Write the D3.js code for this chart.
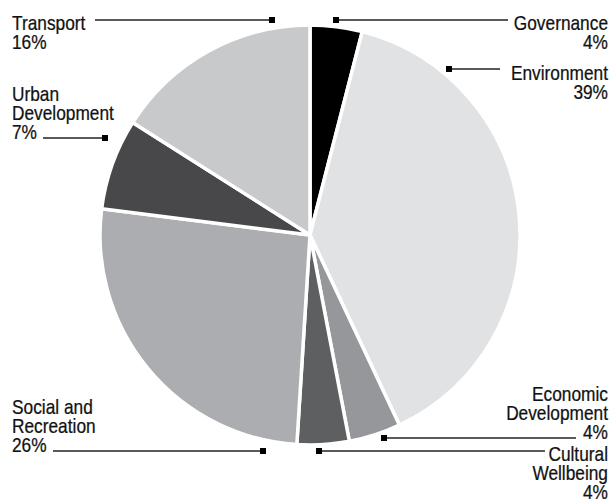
<!DOCTYPE html>
<html>
<head>
<meta charset="utf-8">
<script src="https://cdn.jsdelivr.net/npm/d3@7"></script>
<style>
  html, body { margin: 0; padding: 0; background: #fff; }
  svg { display: block; }
  text { font-family: "Liberation Sans", Arial, sans-serif; font-size: 20px; fill: #111; stroke: #111; stroke-width: 0.25px; }
</style>
</head>
<body>
<svg id="chart" width="614" height="499"></svg>
<script>
// Budget share by category, clockwise from 12 o'clock
const categories = ["Governance", "Environment", "Economic Development", "Cultural Wellbeing", "Social and Recreation", "Urban Development", "Transport"];
const labelLines = [["Governance"], ["Environment"], ["Economic", "Development"], ["Cultural", "Wellbeing"], ["Social and", "Recreation"], ["Urban", "Development"], ["Transport"]];
const values = [4, 39, 4, 4, 26, 7, 16];
const colors = ["#000000", "#e1e2e4", "#96979a", "#5e5f61", "#acadb0", "#48484a", "#c8c9cb"];

// Callout placement: text anchor side, first baseline, leader line row, line end near text, marker x
const callouts = [
  { side: "end",   x: 608, y: 30,  ly: 20,  lx: 508, mx: 336 },
  { side: "end",   x: 608, y: 80,  ly: 69,  lx: 500, mx: 449 },
  { side: "end",   x: 608, y: 401, ly: 438, lx: 576, mx: 384 },
  { side: "end",   x: 608, y: 461, ly: 451, lx: 545, mx: 319 },
  { side: "start", x: 12,  y: 414, ly: 451, lx: 53,  mx: 263 },
  { side: "start", x: 12,  y: 101, ly: 138, lx: 43,  mx: 105 },
  { side: "start", x: 12,  y: 30,  ly: 20,  lx: 95,  mx: 272 }
];

const svg = d3.select("#chart");
const cx = 310, cy = 235, radius = 210, lineH = 19;
const squeeze = 0.865; // condensed lettering

const pie = d3.pie().sort(null).value(d => d)(values);
const arc = d3.arc().innerRadius(0).outerRadius(radius);

svg.append("g")
  .attr("transform", `translate(${cx},${cy})`)
  .selectAll("path")
  .data(pie)
  .join("path")
  .attr("d", arc)
  .attr("fill", (d, i) => colors[i])
  .attr("stroke", "#fff")
  .attr("stroke-width", 3.5)
  .attr("stroke-linejoin", "round");

const labels = svg.append("g");
categories.forEach((name, i) => {
  const c = callouts[i];
  const lines = labelLines[i].concat([values[i] + "%"]);
  const t = labels.append("text")
    .attr("text-anchor", c.side)
    .attr("transform", `translate(${c.x},0) scale(${squeeze},1)`);
  lines.forEach((ln, j) => {
    t.append("tspan").attr("x", 0).attr("y", c.y + j * lineH).text(ln);
  });
  labels.append("line")
    .attr("x1", c.lx).attr("x2", c.mx)
    .attr("y1", c.ly).attr("y2", c.ly)
    .attr("stroke", "#222").attr("stroke-width", 1.5);
  labels.append("rect")
    .attr("x", c.mx - 3).attr("y", c.ly - 3)
    .attr("width", 6).attr("height", 6)
    .attr("fill", "#000");
});
</script>
</body>
</html>
